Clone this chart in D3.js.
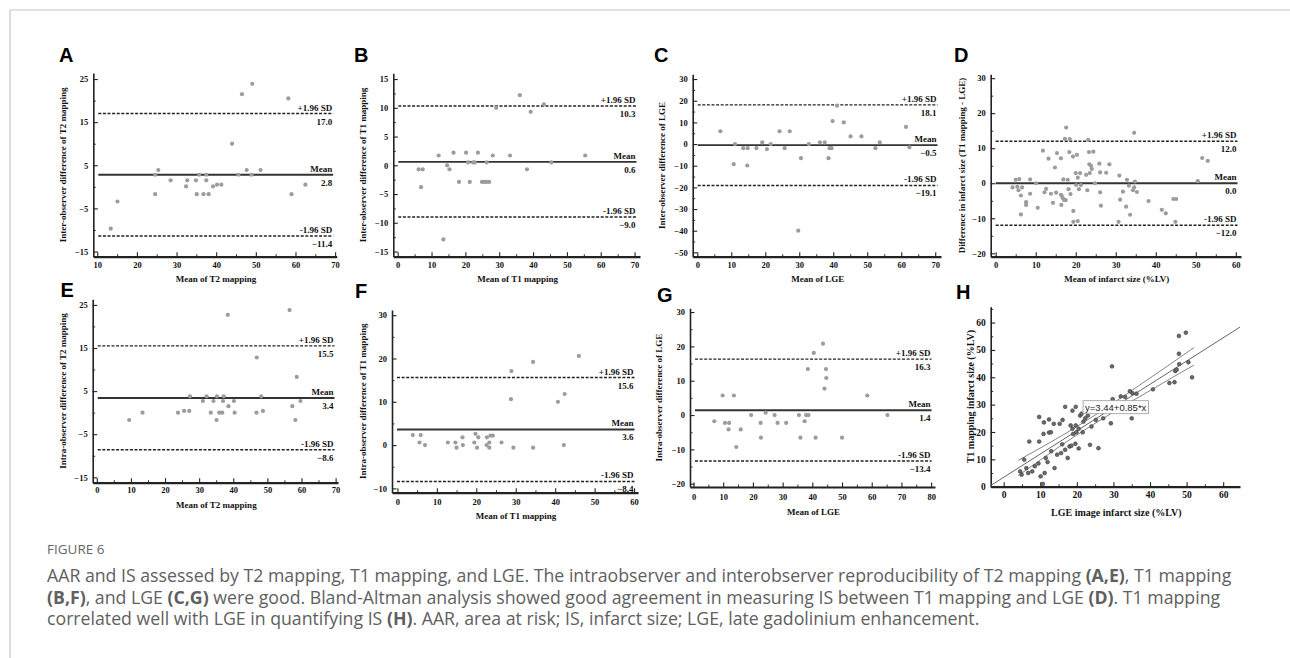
<!DOCTYPE html>
<html><head><meta charset="utf-8">
<script src="https://cdn.jsdelivr.net/npm/d3@7"></script>
<style>
body{margin:0;background:#fff;}
svg{display:block;}
</style></head><body>
<svg id="c" width="1290" height="658"></svg>
<script>
// ---------------- DATA ----------------
// A: inter-observer T2 mapping
const A_mean = [13.4,15.1,24.6,24.6,25.4,28.5,32.4,32.7,34.9,35.1,35.7,36.8,37.5,37.5,38.1,39.2,40.2,41.3,44.0,45.6,46.5,47.7,48.9,49.1,51.2,58.2,59.0,62.5];
const A_diff = [-9.7,-3.4,2.8,-1.7,3.9,1.5,0.1,1.5,1.5,-1.7,2.8,-1.7,2.8,1.5,-1.7,0.1,0.5,0.5,10.0,2.8,21.5,3.9,2.8,23.9,3.9,20.5,-1.7,0.5];
const A_limits = [17.0, 2.8, -11.4];
// B: inter-observer T1 mapping
const B_mean = [6.2,7.4,6.9,12.1,13.5,14.6,15.3,16.5,18.1,20.2,20.8,21.3,22.3,22.8,23.7,24.9,25.6,26.3,26.3,27.0,28.1,29.1,33.2,36.1,38.2,39.3,43.2,45.4,55.4];
const B_diff = [-0.7,-0.7,-3.8,1.7,-12.9,0,-0.7,2.2,-2.9,2.2,0.5,-2.9,0.5,0.5,2.2,-2.9,-2.9,0.5,-2.9,-2.9,1.7,10.0,1.7,12.2,-0.7,9.3,10.6,0.5,1.7];
const B_limits = [10.3, 0.6, -9.0];
// C: inter-observer LGE
const C_mean = [6.8,10.7,11.1,13.5,14.8,14.7,17.4,19.1,20.5,21.6,24.2,25.7,27.2,29.7,30.5,32.8,36.1,37.5,38.6,38.9,39.5,39.8,41.1,43.1,45.1,48.3,52.4,53.7,61.4,62.4];
const C_diff = [5.9,-9.3,0,-1.9,-1.9,-9.9,-1.9,0.8,-2.3,0,5.9,-1.9,5.9,-40,-6.5,0,0.8,0.8,-6.5,-1.9,-1.9,10.6,17.7,10.0,3.5,3.5,-1.9,0.8,7.9,-1.5];
const C_limits = [18.1, -0.5, -19.1];
// D: T1 mapping vs LGE infarct size
const D_mean = [4.2,5.0,5.4,5.7,5.9,6.3,6.3,6.6,7.6,7.6,8.6,8.6,10.1,10.5,11.8,12.2,12.6,13.2,13.8,14.3,14.8,15.1,15.3,16.3,16.3,16.4,16.5,16.8,16.9,17.1,17.3,17.5,17.6,18.0,18.2,18.4,18.5,18.7,19.3,19.4,19.4,20.0,20.1,20.5,20.3,20.5,20.8,21.1,21.3,22.6,22.9,23.1,23.3,23.4,23.5,23.8,24.0,24.4,24.8,25.9,26.1,26.1,26.3,27.6,28.4,30.7,30.9,31.1,31.8,32.6,32.8,33.3,33.6,34.3,34.6,34.8,35.3,34.6,38.2,41.5,42.5,44.4,45.1,44.9,51.6,53.0,50.5];
const D_diff = [-1.2,1.0,-1.0,-2.0,1.2,-3.5,-8.9,-1.2,-5.4,-6.2,1.1,-3.0,0,-7.0,9.3,-2.6,-1.6,7.0,-3.0,-5.6,4.5,-2.7,8.6,7.1,-3.3,-6.2,-3.6,-4.3,1.1,-4.8,12.7,-4.8,15.9,1.0,-1.7,8.9,12.6,-3.1,7.6,-7.9,-11.0,2.9,-0.5,-10.8,8.1,1.6,-1.7,2.9,-0.5,2.4,-2.0,12.4,8.9,5.4,2.9,5.0,4.1,9.0,0,5.6,3.1,-2.6,-6.4,3.0,5.4,-11.0,2.2,-4.7,-2.4,-6.7,1.0,-0.7,-9.0,-2.0,-1.2,0.5,-2.5,14.4,-5.1,-7.6,-8.6,-4.5,-4.5,-11.0,7.2,6.4,0.6];
const D_limits = [12.0, 0.0, -12.0];
// E: intra-observer T2 mapping
const E_mean = [9.5,13.4,23.8,25.6,27.1,27.3,31.1,32.2,33.4,34.2,35.2,35.1,35.9,36.8,37.0,37.2,38.4,38.6,40.2,40.4,46.8,46.9,48.2,48.7,56.5,57.3,58.2,58.6,59.7];
const E_diff = [-1.7,0,0,0.4,0.4,3.8,2.7,3.8,0,2.7,3.8,-1.7,0,0,2.7,3.8,22.7,1.5,2.7,0,0,12.8,3.8,0.4,23.8,1.5,-1.7,8.3,2.7];
const E_limits = [15.5, 3.4, -8.6];
// F: intra-observer T1 mapping
const F_mean = [3.9,5.9,5.6,7.0,12.8,14.7,15.0,16.5,16.6,19.5,19.8,20.5,20.2,22.7,22.6,23.3,23.3,23.6,24.2,26.4,28.9,28.8,29.4,34.4,34.4,40.7,42.4,42.2,46.0];
const F_diff = [2.3,2.3,0.6,0,0.6,0.6,-0.6,1.8,0,0.6,2.6,1.8,-0.6,1.8,0,0.6,-0.6,2.2,2.2,0.6,17.1,10.6,-0.6,19.2,-0.6,10.0,11.8,0,20.6];
const F_limits = [15.6, 3.6, -8.4];
// G: intra-observer LGE
const G_mean = [7.0,9.8,10.6,12.0,11.8,13.6,14.4,15.9,19.4,22.6,22.7,24.3,27.3,28.3,31.2,35.5,36.0,37.4,37.9,38.7,38.5,40.5,41.1,43.6,44.6,44.7,44.1,50.0,58.5,65.3];
const G_diff = [-1.8,5.7,-2.3,-2.3,-4.2,5.7,-9.3,-4.2,0,-2.3,-6.6,0.7,0,-2.3,-2.3,0,-6.6,-1.8,0,0,13.4,18.1,-6.6,20.8,13.4,10.8,7.7,-6.6,5.7,0];
const G_limits = [16.3, 1.4, -13.4];
// H: regression LGE (x) vs T1 mapping (y)
const H_lge = [7.0,9.7,11.0,12.4,9.7,10.9,12.4,12.9,13.7,15.3,16.1,16.8,18.8,19.7,20.9,21.3,18.3,18.8,19.0,19.7,19.9,20.5,21.6,21.8,22.3,23.0,24.0,25.2,27.2,29.3,29.6,29.8,32.0,33.2,34.5,35.2,36.3,35.0,40.8,45.3,46.7,46.9,47.3,48.0,47.9,47.9,49.8,50.5,51.5,
  4.5,4.9,5.6,6.2,6.7,7.8,8.5,10.1,10.7,11.2,12.0,13.9,14.6,15.7,16.8,17.5,18.0,19.6,20.5,23.6,25.9,9.5,11.5,13.0,16.0,18.5];
const H_t1 = [16.5,25.5,23.5,24.6,16.5,19.3,19.8,19.9,23.0,23.0,24.4,29.2,27.8,29.2,26.0,26.7,22.4,21.2,19.3,22.4,19.9,21.2,19.9,23.8,25.0,26.0,22.0,24.4,25.0,23.2,44.0,32.0,33.0,32.8,34.9,34.2,34.0,25.0,35.6,37.9,38.2,42.3,42.8,44.8,48.6,55.1,56.3,45.5,40.0,
  5.6,4.4,9.9,6.8,5.0,5.6,7.5,3.8,1.0,5.0,9.0,6.8,11.7,12.3,13.5,10.5,14.7,15.7,14.0,15.3,14.1,8.5,10.5,13.0,15.5,15.0];
const H_intercept = 3.44, H_slope = 0.85;
const H_ciX = [4, 10, 16, 22, 28, 34, 40, 46, 52];
const H_ciHalf = [2.8, 2.2, 1.7, 1.5, 1.6, 1.9, 2.3, 2.7, 3.2];

const limitNames = ["+1.96 SD", "Mean", "-1.96 SD"];

// ---------------- DRAW ----------------
const svg = d3.select("#c");
const SERIF = "'Liberation Serif','Times New Roman',serif";
const SANS = "'Liberation Sans',Arial,sans-serif";

// card frame
svg.append("line").attr("x1",10).attr("x2",1290).attr("y1",10).attr("y2",10).attr("stroke","#c4c4c4").attr("stroke-width",1.2);
svg.append("line").attr("x1",10).attr("x2",10).attr("y1",10).attr("y2",658).attr("stroke","#c4c4c4").attr("stroke-width",1.2);

function panel(p){
  const g = svg.append("g");
  const x = d3.scaleLinear().domain(p.xd).range(p.xr);
  const y = d3.scaleLinear().domain(p.yd).range(p.yr);
  const axisY = p.yr[0];
  const xMinor = d3.range(p.xt[0]+p.xs/2, p.xd[1], p.xs);
  const yMinor = d3.range(p.yt[0]+p.ys/2, p.yd[1], p.ys);
  g.append("g").attr("transform",`translate(0,${axisY})`)
    .call(d3.axisBottom(x).tickValues(xMinor).tickSize(-2.5).tickFormat(""))
    .call(s=>s.select(".domain").remove())
    .call(s=>s.selectAll("line").attr("stroke","#333").attr("stroke-width",1));
  g.append("g").attr("transform",`translate(${p.xr[0]},0)`)
    .call(d3.axisLeft(y).tickValues(yMinor).tickSize(-2.5).tickFormat(""))
    .call(s=>s.select(".domain").remove())
    .call(s=>s.selectAll("line").attr("stroke","#333").attr("stroke-width",1));
  const xt = d3.range(p.xt[0], p.xt[1]+0.001, p.xs);
  const yt = d3.range(p.yt[0], p.yt[1]+0.001, p.ys);
  g.append("g").attr("transform",`translate(${p.xr[0]},0)`)
    .call(d3.axisLeft(y).tickValues(yt).tickSize(-4.5).tickSizeOuter(0).tickPadding(p.ypad||5).tickFormat(d3.format("d")))
    .call(s=>s.select(".domain").attr("stroke","#222").attr("stroke-width",1.6))
    .call(s=>s.selectAll("line").attr("stroke","#222").attr("stroke-width",1.1))
    .call(s=>s.selectAll("text").attr("font-family",SERIF).attr("font-weight","bold").attr("font-size",p.tf||8.5).attr("fill","#111"));
  g.append("g").attr("transform",`translate(0,${axisY})`)
    .call(d3.axisBottom(x).tickValues(xt).tickSize(-4.5).tickSizeOuter(0).tickPadding(p.xpad).tickFormat(d3.format("d")))
    .call(s=>s.select(".domain").attr("stroke","#222").attr("stroke-width",2.2))
    .call(s=>s.selectAll("line").attr("stroke","#222").attr("stroke-width",1.1))
    .call(s=>s.selectAll("text").attr("font-family",SERIF).attr("font-weight","bold").attr("font-size",p.tf||8.5).attr("fill","#111"));
  g.append("text").attr("x",(p.xr[0]+p.xr[1])/2+1).attr("y",p.xtY).attr("dy","0.35em")
    .attr("text-anchor","middle").attr("font-family",SERIF).attr("font-weight","bold").attr("font-size",p.ttf||9).attr("fill","#111").text(p.xTitle);
  g.append("text").attr("transform",`translate(${p.ytX},${(p.yr[0]+p.yr[1])/2}) rotate(-90)`).attr("dy","0.35em")
    .attr("text-anchor","middle").attr("font-family",SERIF).attr("font-weight","bold").attr("font-size",p.ttf||9).attr("fill","#111").text(p.yTitle);
  g.append("text").attr("x",p.lx).attr("y",p.ly).attr("font-family",SANS).attr("font-weight","bold").attr("font-size",20).attr("fill","#000").text(p.letter);
  return {g,x,y};
}

function blandAltman(p, means, diffs, limits){
  const {g,x,y} = panel(p);
  const x0 = p.xr[0]+5, x1 = p.xr[1]-3.5;
  limits.forEach((v,i)=>{
    g.append("line").attr("x1",x0).attr("x2",x1).attr("y1",y(v)).attr("y2",y(v))
      .attr("stroke", i===1?"#333":"#222").attr("stroke-width", i===1?1.8:1.4)
      .attr("stroke-dasharray", i===1?null:"3,1.6");
    g.append("text").attr("x",x1-1).attr("y",y(v)-3).attr("text-anchor","end")
      .attr("font-family",SERIF).attr("font-weight","bold").attr("font-size",9).attr("fill","#111").text(limitNames[i]);
    g.append("text").attr("x",x1-1).attr("y",y(v)+11).attr("text-anchor","end")
      .attr("font-family",SERIF).attr("font-weight","bold").attr("font-size",9).attr("fill","#111").text(d3.format(".1f")(v));
  });
  g.append("g").selectAll("circle").data(d3.zip(means,diffs)).join("circle")
    .attr("cx",d=>x(d[0])).attr("cy",d=>y(d[1])).attr("r",2.1).attr("fill","#9c9c9c");
}

blandAltman({letter:"A",lx:59,ly:62,xr:[93.3,336.7],xd:[9,70.4],yr:[256.7,73],yd:[-16.2,26.4],
  xt:[10,70],xs:10,yt:[-15,25],ys:10,xpad:5,xTitle:"Mean of T2 mapping",xtY:279.3,ytX:62.7,
  yTitle:"Inter-observer difference of T2 mapping"}, A_mean, A_diff, A_limits);
blandAltman({letter:"B",lx:354,ly:62,xr:[393.3,640],xd:[-1.3,71.6],yr:[256.7,73.3],yd:[-15.9,16.0],
  xt:[0,70],xs:10,yt:[-15,15],ys:5,xpad:5,xTitle:"Mean of T1 mapping",xtY:279.3,ytX:363.3,
  yTitle:"Inter-observer difference of T1 mapping"}, B_mean, B_diff, B_limits);
blandAltman({letter:"C",lx:654,ly:62,xr:[692.7,941],xd:[-1.35,71.7],yr:[256.7,74.3],yd:[-52,32.2],
  xt:[0,70],xs:10,yt:[-50,30],ys:10,xpad:5,xTitle:"Mean of LGE",xtY:279.3,ytX:661.7,
  yTitle:"Inter-observer difference of LGE"}, C_mean, C_diff, C_limits);
blandAltman({letter:"D",lx:954,ly:62,xr:[990.7,1241],xd:[-1.25,61.3],yr:[256.7,74.3],yd:[-20.97,31.1],
  xt:[0,60],xs:10,yt:[-20,30],ys:10,xpad:5,xTitle:"Mean of infarct size (%LV)",xtY:279.3,ytX:961.7,
  yTitle:"Difference in infarct size (T1 mapping - LGE)"}, D_mean, D_diff, D_limits);
blandAltman({letter:"E",lx:60.5,ly:297.3,xr:[92.7,338],xd:[-1.2,70.7],yr:[482.7,299.3],yd:[-16.25,26.3],
  xt:[0,70],xs:10,yt:[-15,25],ys:10,xpad:4.5,xTitle:"Mean of T2 mapping",xtY:505,ytX:62.7,
  yTitle:"Intra-observer difference of T2 mapping"}, E_mean, E_diff, E_limits);
blandAltman({letter:"F",lx:355,ly:298,xr:[392,638],xd:[-1.37,61.0],yr:[492.7,310],yd:[-11.0,31.2],
  xt:[0,60],xs:10,yt:[-10,30],ys:10,xpad:6,xTitle:"Mean of T1 mapping",xtY:516,ytX:363.3,
  yTitle:"Intra-observer difference of T1 mapping"}, F_mean, F_diff, F_limits);
blandAltman({letter:"G",lx:657,ly:301.5,xr:[690,935],xd:[-1.18,81.3],yr:[487,308.3],yd:[-20.96,31.1],
  xt:[0,80],xs:10,yt:[-20,30],ys:10,xpad:7,xTitle:"Mean of LGE",xtY:511.7,ytX:659.3,
  yTitle:"Intra-observer difference of LGE"}, G_mean, G_diff, G_limits);

// H regression panel
(function(){
  const p = {letter:"H",lx:956,ly:299,xr:[990.7,1240],xd:[-3.55,64.6],yr:[486.7,306.7],yd:[0,65.8],
    xt:[0,60],xs:10,yt:[0,60],ys:10,xpad:5,tf:9.5,ttf:10,xTitle:"LGE image infarct size (%LV)",xtY:512.7,ytX:970,
    yTitle:"T1 mapping infarct size (%LV)"};
  const {g,x,y} = panel(p);
  const reg = v => H_intercept + H_slope*v;
  const line = d3.line().x(d=>x(d[0])).y(d=>y(d[1]));
  const cline = d3.line().x(d=>x(d[0])).y(d=>y(d[1])).curve(d3.curveMonotoneX);
  g.append("path").attr("d",line([[p.xd[0],reg(p.xd[0])],[p.xd[1],reg(p.xd[1])]])).attr("fill","none").attr("stroke","#666").attr("stroke-width",1);
  g.append("path").attr("d",cline(H_ciX.map((v,i)=>[v,reg(v)+H_ciHalf[i]]))).attr("fill","none").attr("stroke","#777").attr("stroke-width",0.9);
  g.append("path").attr("d",cline(H_ciX.map((v,i)=>[v,reg(v)-H_ciHalf[i]]))).attr("fill","none").attr("stroke","#777").attr("stroke-width",0.9);
  g.append("g").selectAll("circle").data(d3.zip(H_lge,H_t1)).join("circle")
    .attr("cx",d=>x(d[0])).attr("cy",d=>y(d[1])).attr("r",1.9).attr("fill","#6a6a6a").attr("stroke","#3a3a3a").attr("stroke-width",0.6);
  const bx = x(21.7), by = y(29.0);
  const box = g.append("g");
  const rect = box.append("rect");
  const t = box.append("text").attr("x",bx+2).attr("y",by).attr("dy","0.35em").attr("font-family",SANS).attr("font-size",9.5).attr("fill","#222")
    .text(`y=${H_intercept}+${H_slope}*x`);
  const bb = t.node().getBBox();
  rect.attr("x",bb.x-2).attr("y",bb.y-1).attr("width",bb.width+4).attr("height",bb.height+2)
    .attr("fill","#fff").attr("stroke","#999").attr("stroke-width",0.8);
})();

// ---------------- CAPTION ----------------
const capColor = "#606060";
svg.append("text").attr("x",47).attr("y",554).attr("font-family","'Open Sans','Noto Sans',sans-serif").attr("font-size",13.5)
  .attr("fill","#666").text("FIGURE 6");
const capLines = [
  [["AAR and IS assessed by T2 mapping, T1 mapping, and LGE. The intraobserver and interobserver reproducibility of T2 mapping ",0],["(A,E)",1],[", T1 mapping",0]],
  [["(B,F)",1],[", and LGE ",0],["(C,G)",1],[" were good. Bland-Altman analysis showed good agreement in measuring IS between T1 mapping and LGE ",0],["(D)",1],[". T1 mapping",0]],
  [["correlated well with LGE in quantifying IS ",0],["(H)",1],[". AAR, area at risk; IS, infarct size; LGE, late gadolinium enhancement.",0]]
];
const capY = [582, 603.5, 625];
const capNodes = capLines.map((ln,i)=>{
  const t = svg.append("text").attr("x",47).attr("y",capY[i]).attr("font-family","'Open Sans','Noto Sans',sans-serif")
    .attr("font-size",15).attr("fill",capColor);
  ln.forEach(([s,b])=>t.append("tspan").attr("font-weight",b?"bold":null).text(s));
  return t;
});
const w0 = capNodes[0].node().getComputedTextLength();
const fs = 15*1185/w0;
capNodes.forEach(t=>t.attr("font-size",fs));
</script></body></html>
